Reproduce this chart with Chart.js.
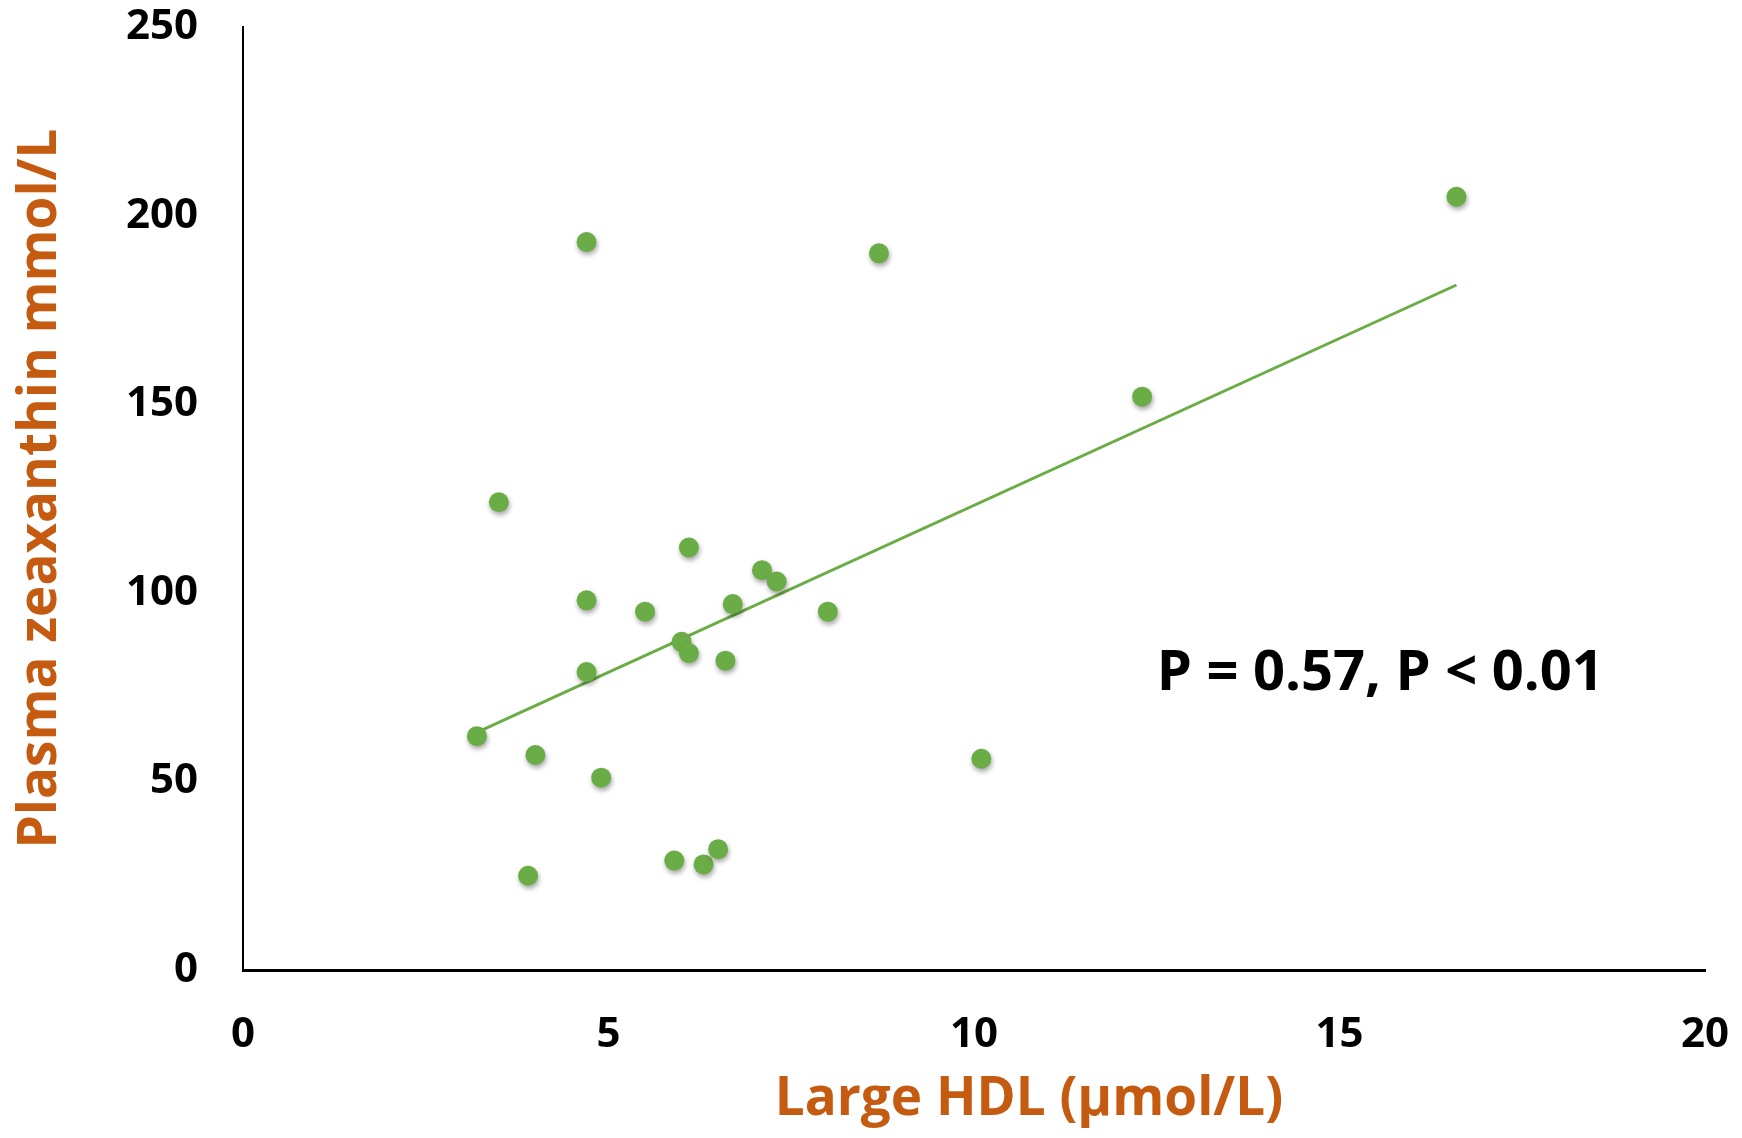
<!DOCTYPE html>
<html>
<head>
<meta charset="utf-8">
<script src="https://cdn.jsdelivr.net/npm/chart.js@4.4.0/dist/chart.umd.min.js"></script>
<style>
html, body { margin: 0; padding: 0; background: #fff; }
</style>
</head>
<body>
<canvas id="myChart" width="1742" height="1138"></canvas>
<script>
// values
const hdl = [3.2, 3.5, 3.9, 4.0, 4.7, 4.7, 4.7, 4.9, 5.5, 5.9, 6.0, 6.1,
             6.1, 6.3, 6.5, 6.6, 6.7, 7.1, 7.3, 8.0, 8.7, 10.1, 12.3, 16.6];
const zeaxanthin = [62, 124, 25, 57, 193, 98, 79, 51, 95, 29, 87, 112,
                    84, 28, 32, 82, 97, 106, 103, 95, 190, 56, 152, 205];

// trend line end points
const trendX = [3.2, 16.6];
const trendY = [63, 181.6];

const xTicks = [0, 5, 10, 15, 20];
const yTicks = [0, 50, 100, 150, 200, 250];

const xTitle = 'Large HDL (μmol/L)';
const yTitle = 'Plasma zeaxanthin mmol/L';
const statText = 'P = 0.57, P < 0.01';
const statPos = {x: 12.5, y: 78.5};

const green = '#6aac46';
const orange = '#c55a11';

const pts = hdl.map((v, i) => ({x: v, y: zeaxanthin[i]}));
const trend = trendX.map((v, i) => ({x: v, y: trendY[i]}));

const dotShadow = {
    id: 'dotShadow',
    beforeDatasetDraw(chart, args) {
        if (args.index !== 0) return;
        const c = chart.ctx;
        c.save();
        c.shadowColor = 'rgba(0,0,0,0.35)';
        c.shadowBlur = 5;
        c.shadowOffsetX = 1;
        c.shadowOffsetY = 3;
    },
    afterDatasetDraw(chart, args) {
        if (args.index !== 0) return;
        chart.ctx.restore();
    }
};

// stat label + axis titles (the x title sits a bit right of centre in the original)
const textLayer = {
    id: 'textLayer',
    afterDraw(chart) {
        const c = chart.ctx, a = chart.chartArea;
        c.save();
        c.font = 'bold 56px "Open Sans"';
        c.fillStyle = '#000';
        c.textAlign = 'left';
        c.textBaseline = 'middle';
        c.fillText(statText, chart.scales.x.getPixelForValue(statPos.x), chart.scales.y.getPixelForValue(statPos.y));

        c.font = 'bold 53px "Open Sans"';
        c.fillStyle = orange;
        c.textAlign = 'center';
        c.fillText(xTitle, (a.left + a.right) / 2 + 55, 1100);
        c.translate(41, (a.top + a.bottom) / 2 - 10);
        c.rotate(-Math.PI / 2);
        c.fillText(yTitle, 0, 0);
        c.restore();
    }
};

const ctx = document.getElementById('myChart').getContext('2d');
const myChart = new Chart(ctx, {
    type: 'scatter',
    data: {
        datasets: [{
            label: 'Zeaxanthin',
            data: pts,
            backgroundColor: green,
            borderColor: green,
            pointRadius: 10,
            pointHoverRadius: 10,
            borderWidth: 0
        },
        {
            label: 'Trend',
            type: 'line',
            data: trend,
            borderColor: green,
            borderWidth: 3,
            pointRadius: 0,
            fill: false,
            tension: 0
        }]
    },
    options: {
        responsive: false,
        animation: false,
        layout: { padding: { top: 27, right: 37, left: 0, bottom: 0 } },
        plugins: {
            legend: { display: false },
            tooltip: { enabled: false }
        },
        scales: {
            x: {
                type: 'linear',
                min: 0,
                max: 20,
                afterBuildTicks: s => { s.ticks = xTicks.map(v => ({value: v})); },
                grid: { display: false },
                border: { display: true, color: '#000', width: 3 },
                ticks: {
                    color: '#000',
                    font: { family: '"Open Sans"', weight: 'bold', size: 42 },
                    padding: 32,
                    maxRotation: 0
                },
                afterFit: s => { s.height = 168; s.paddingLeft = 0; s.paddingRight = 0; }
            },
            y: {
                min: 0,
                max: 250,
                afterBuildTicks: s => { s.ticks = yTicks.map(v => ({value: v})); },
                grid: { display: false },
                border: { display: true, color: '#000', width: 2 },
                ticks: {
                    color: '#000',
                    font: { family: '"Open Sans"', weight: 'bold', size: 42 },
                    padding: 37
                },
                afterFit: s => { s.width = 243; s.paddingTop = 0; s.paddingBottom = 0; }
            }
        }
    },
    plugins: [dotShadow, textLayer]
});
</script>
</body>
</html>
